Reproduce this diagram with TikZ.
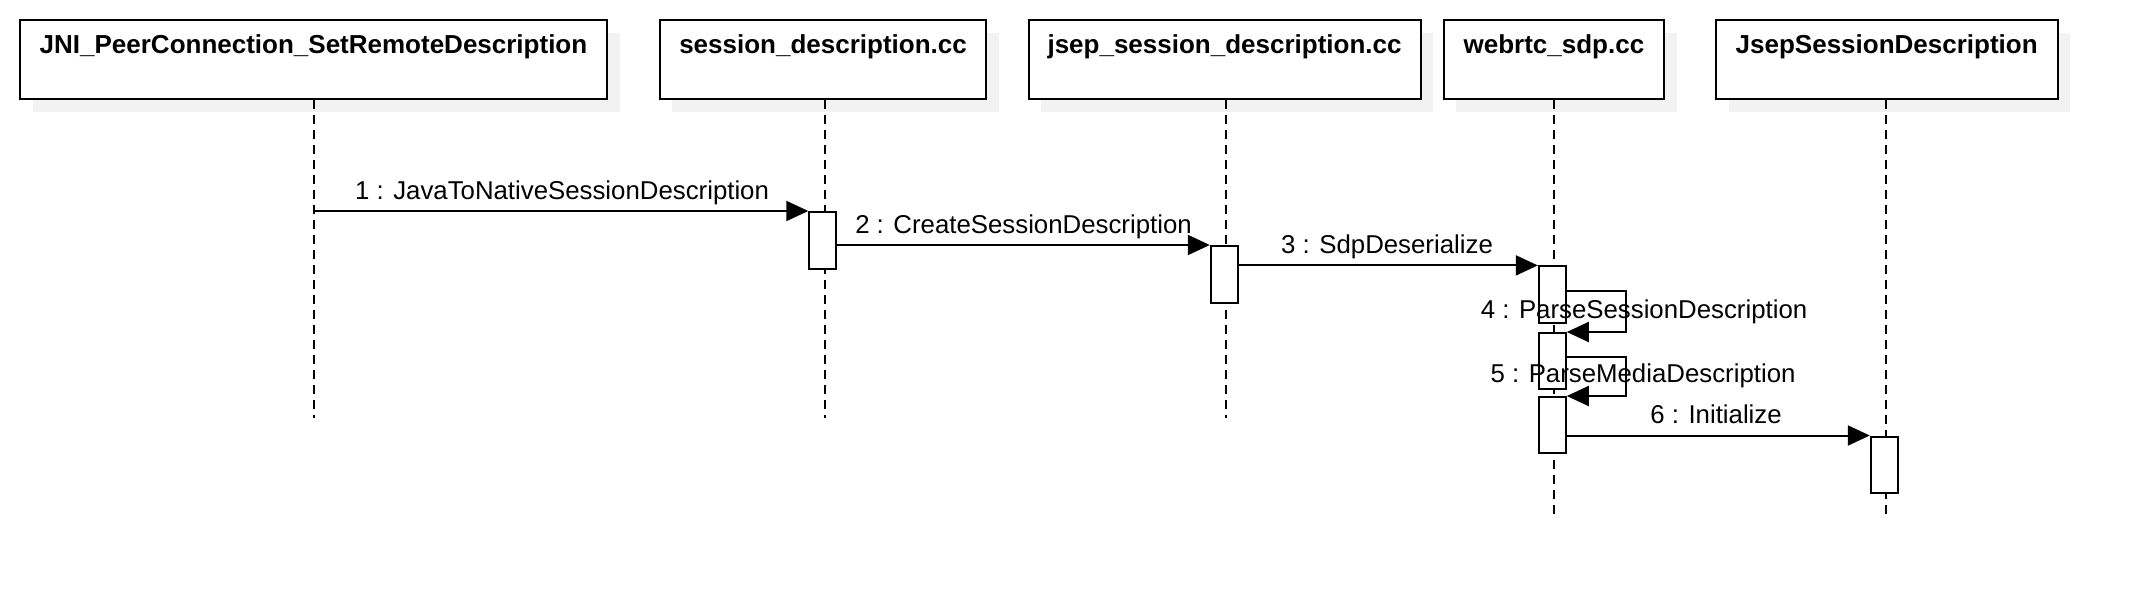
\documentclass[tikz,border=0pt]{standalone}
\usepackage{fontspec}
\setmainfont{Liberation Sans}
\usetikzlibrary{arrows.meta}
\definecolor{shadowgray}{HTML}{F2F2F2}
\begin{document}
\begin{tikzpicture}[x=1pt,y=-1pt,
  objbox/.style={draw=black,line width=2pt,fill=white,rectangle,anchor=north west,inner sep=0pt},
  shadowbox/.style={fill=shadowgray,draw=none},
  lifeline/.style={draw=black,line width=2pt,dash pattern=on 9pt off 6pt},
  actbox/.style={draw=black,line width=2pt,fill=white,rectangle,minimum width=27pt,minimum height=57pt,anchor=north,inner sep=0pt},
  msg/.style={draw=black,line width=2pt,-{Triangle[length=22pt,width=20pt]}},
  msglabel/.style={font=\fontsize{25.8}{30}\selectfont,inner sep=0pt,anchor=base},
  titletext/.style={font=\bfseries\fontsize{26}{30}\selectfont,inner sep=0pt,anchor=base}
]
\useasboundingbox (0,0) rectangle (2134,600);
% shadows
\fill[shadowgray] (32.6,32.6) rectangle (619.6,111.6);
\fill[shadowgray] (672.3,32.6) rectangle (999,111.6);
\fill[shadowgray] (1041.2,32.6) rectangle (1433.1,111.6);
\fill[shadowgray] (1456.3,32.6) rectangle (1676.7,111.6);
\fill[shadowgray] (1728.5,32.6) rectangle (2070.1,111.6);
% object boxes
\node[objbox,minimum width=587pt,minimum height=79pt] (b1) at (19,19) {};
\node[objbox,minimum width=326.7pt,minimum height=79pt] (b2) at (658.7,19) {};
\node[objbox,minimum width=391.9pt,minimum height=79pt] (b3) at (1027.6,19) {};
\node[objbox,minimum width=220.4pt,minimum height=79pt] (b4) at (1442.7,19) {};
\node[objbox,minimum width=341.6pt,minimum height=79pt] (b5) at (1714.9,19) {};
\node[titletext] (t1) at ([yshift=-34pt]b1.north) {JNI\_PeerConnection\_SetRemoteDescription};
\node[titletext] (t2) at ([yshift=-34pt]b2.north) {session\_description.cc};
\node[titletext] (t3) at ([yshift=-34pt]b3.north) {jsep\_session\_description.cc};
\node[titletext] (t4) at ([yshift=-34pt]b4.north) {webrtc\_sdp.cc};
\node[titletext] (t5) at ([yshift=-34pt]b5.north) {JsepSessionDescription};
% lifeline ends
\coordinate (l1) at (314.4,417.8);
\coordinate (l2) at (824.8,417.8);
\coordinate (l3) at (1226.3,417.8);
\coordinate (l4) at (1554.3,514.5);
\coordinate (l5) at (1886.3,514.5);
\draw[lifeline] (b1.south -| l1) -- (l1);
\draw[lifeline] (b2.south -| l2) -- (l2);
\draw[lifeline] (b3.south -| l3) -- (l3);
\draw[lifeline] (b4.south -| l4) -- (l4);
\draw[lifeline] (b5.south -| l5) -- (l5);
% activations
\node[actbox] (a2) at (822.8,211) {};
\node[actbox] (a3) at (1224.3,245) {};
\node[actbox] (a4a) at (1552.3,265.4) {};
\node[actbox,minimum height=56pt] (a4b) at (1552.3,332) {};
\node[actbox,minimum height=56pt] (a4c) at (1552.3,396) {};
\node[actbox,minimum height=56pt] (a5) at (1884.3,435.5) {};
% messages
\coordinate (m1s) at (314.4,211);
\draw[msg] (m1s) -- (a2.north west);
\draw[msg] (a2.east |- a3.north) -- (a3.north west);
\draw[msg] (a3.east |- a4a.north) -- (a4a.north west);
\coordinate (loop4a) at (1626.4,291.3);
\draw[msg] (a4a.east |- loop4a) -- (loop4a) -- (loop4a |- a4b.north) -- (a4b.north east);
\coordinate (loop5a) at (1626.4,356.6);
\draw[msg] (a4b.east |- loop5a) -- (loop5a) -- (loop5a |- a4c.north) -- (a4c.north east);
\draw[msg] (a4c.east |- a5.north) -- (a5.north west);
% labels
\node[msglabel] (lab1) at (562,199) {1 : JavaToNativeSessionDescription};
\node[msglabel] (lab2) at (1023.5,233) {2 : CreateSessionDescription};
\node[msglabel] (lab3) at (1387,253) {3 : SdpDeserialize};
\node[msglabel] (lab4) at (1644,318) {4 : ParseSessionDescription};
\node[msglabel] (lab5) at (1643,382) {5 : ParseMediaDescription};
\node[msglabel] (lab6) at (1716,423) {6 : Initialize};
\end{tikzpicture}
\end{document}
